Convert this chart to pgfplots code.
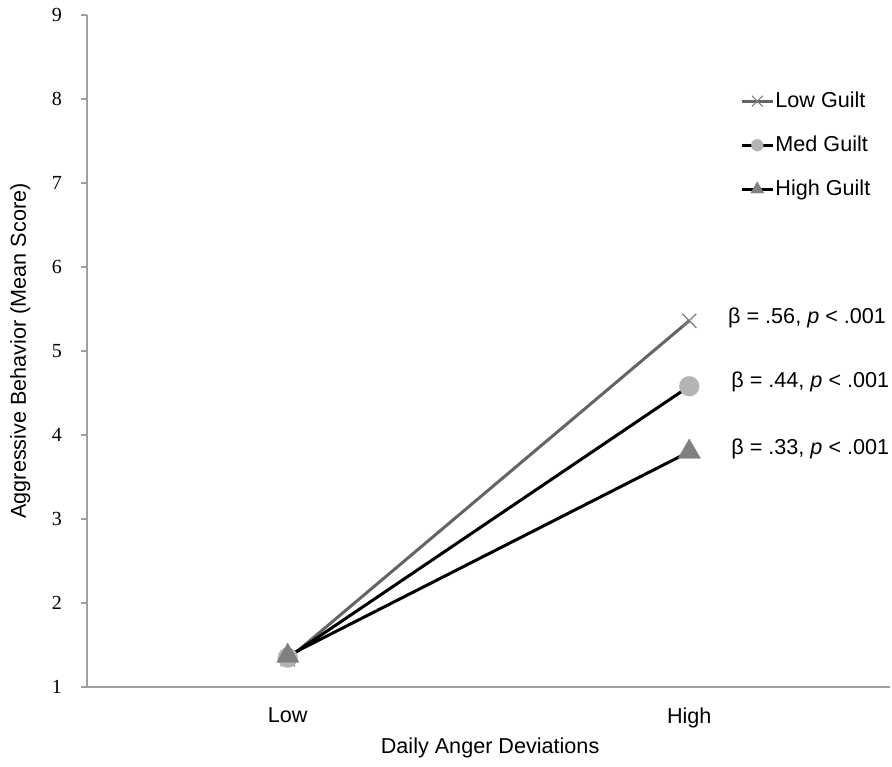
\documentclass[border=0pt]{standalone}
\usepackage{fontspec}
\setmainfont{Liberation Sans}
\newfontfamily\timesf{Liberation Serif}
\usepackage{pgfplots}
\pgfplotsset{compat=1.18}
\definecolor{axisgray}{RGB}{160,160,160}
\definecolor{lowline}{RGB}{100,100,100}
\definecolor{xmark}{RGB}{125,125,125}
\definecolor{circfill}{RGB}{180,180,180}
\definecolor{trifill}{RGB}{128,128,128}
\newcommand{\fs}{\fontsize{10.8}{13}\selectfont}

\begin{document}
\begin{tikzpicture}
\useasboundingbox (-43.5pt,-39.5pt) rectangle (402.5pt,343.5pt);
\begin{axis}[
  scale only axis, width=401.5pt, height=336pt,
  at={(0,0)}, anchor=south west,
  xmin=0, xmax=2, ymin=1, ymax=9,
  axis x line*=bottom, axis y line*=left,
  axis line style={draw=axisgray, line width=.6pt, -},
  xtick={0.5,1.5}, xticklabels={Low, High},
  major x tick style={draw=none},
  xticklabel style={font=\fs, yshift=-7pt},
  ytick={1,...,9},
  ytick align=outside, major tick length=3pt,
  major y tick style={draw=axisgray, line width=.6pt},
  /pgf/number format/assume math mode=true,
  yticklabel style={font=\timesf\fontsize{10}{12}\selectfont, xshift=-6pt},
  xlabel={Daily Anger Deviations},
  ylabel={Aggressive Behavior (Mean Score)},
  label style={font=\fs},
  xlabel style={at={(axis description cs:0.502,-0.091)}, anchor=center},
  ylabel style={at={(axis description cs:-0.083,0.5)}, anchor=center},
  clip=false,
  legend style={draw=none, fill=none, font=\fs,
    at={(axis description cs:0.813,0.888)}, anchor=north west,
    row sep=11.5pt, inner sep=0pt, nodes={inner sep=0.6pt}},
  legend cell align=left,
  legend image code/.code={
    \draw[mark repeat=2, mark phase=2] plot coordinates {(0pt,0pt) (7.75pt,0pt) (15.5pt,0pt)};
  },
]
\addplot[forget plot, color=lowline, line width=1.5pt,
  mark=x, mark size=5pt, mark options={draw=xmark, line width=.6pt}]
  coordinates {(0.5,1.33) (1.5,5.36)};
\addplot[forget plot, color=black, line width=1.5pt,
  mark=*, mark size=5pt, mark options={draw=circfill, fill=circfill, line width=0.1pt}]
  coordinates {(0.5,1.35) (1.5,4.58)};
\addplot[forget plot, color=black, line width=1.5pt,
  mark=triangle*, mark size=6.5pt, mark options={draw=trifill, fill=trifill, line width=0.1pt}]
  coordinates {(0.5,1.37) (1.5,3.80)};

\addlegendimage{color=lowline, line width=1.5pt, mark=x, mark size=3.8pt,
  mark options={draw=xmark, line width=.5pt}}
\addlegendentry{Low Guilt}
\addlegendimage{color=black, line width=1.5pt, mark=*, mark size=3pt,
  mark options={draw=circfill, fill=circfill, line width=0.1pt}}
\addlegendentry{Med Guilt}
\addlegendimage{color=black, line width=1.5pt, mark=triangle*, mark size=3.8pt,
  mark options={draw=trifill, fill=trifill, line width=0.1pt}}
\addlegendentry{High Guilt}

\node[font=\fs, anchor=west, inner sep=0pt] at (axis cs:1.596,5.39) {β = .56, \textit{p} < .001};
\node[font=\fs, anchor=west, inner sep=0pt] at (axis cs:1.604,4.63) {β = .44, \textit{p} < .001};
\node[font=\fs, anchor=west, inner sep=0pt] at (axis cs:1.604,3.83) {β = .33, \textit{p} < .001};
\end{axis}
\end{tikzpicture}
\end{document}
